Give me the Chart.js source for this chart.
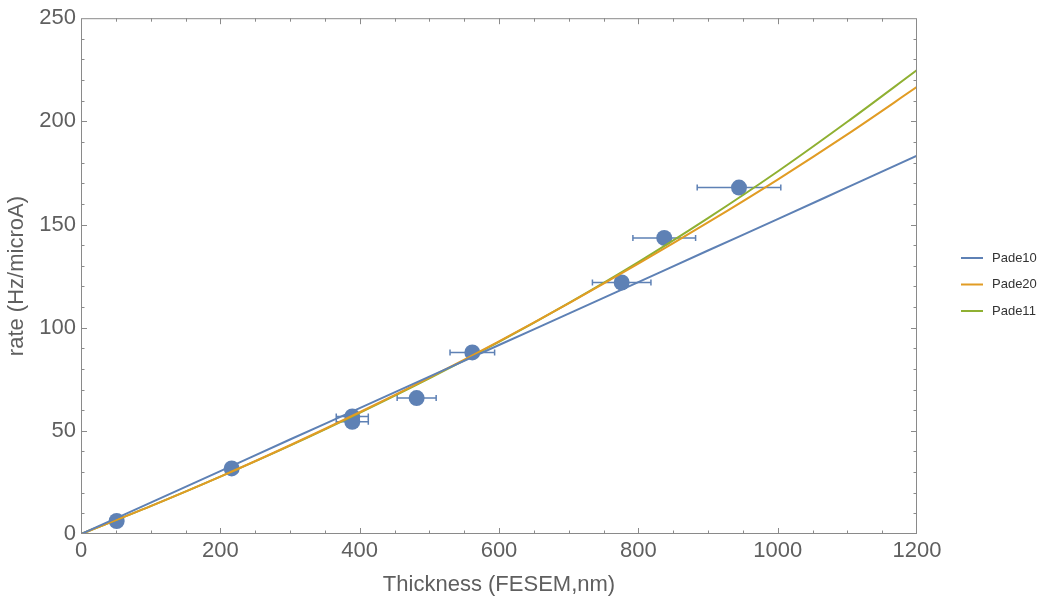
<!DOCTYPE html>
<html lang="en">
<head>
    <meta charset="UTF-8">
    <title>rate vs thickness</title>
    <style>
        body { margin: 0; background: #fff; }
        #wrap { width: 1044px; height: 602px; }
    </style>
</head>
<body>
    <div id="wrap"><canvas id="myChart" width="1044" height="602"></canvas></div>

    <script src="https://cdn.jsdelivr.net/npm/chart.js"></script>

    <script>
        // measured points
        const thickness = [51.2, 216.3, 389.4, 389.4, 481.8, 561.7, 776.1, 837.2, 944.5]
        const rate = [6.3, 31.8, 57.0, 54.4, 65.9, 88.0, 121.9, 143.5, 167.9]
        const thicknessErr = [0, 0, 23, 23, 28, 32, 42, 45, 60]

        // fitted curves, every 100 nm
        const curveX = [0, 100, 200, 300, 400, 500, 600, 700, 800, 900, 1000, 1100, 1200]
        const pade10 = [0, 15.2, 30.5, 45.8, 61.0, 76.3, 91.6, 106.8, 122.1, 137.4, 152.6, 168.0, 183.4]
        const pade20 = [0, 13.5, 27.8, 43.0, 59.0, 75.8, 93.4, 111.8, 131.0, 151.0, 171.8, 193.7, 216.7]
        const pade11 = [0, 13.5, 27.8, 42.8, 58.7, 75.4, 93.1, 111.9, 131.8, 153.1, 175.7, 199.8, 224.9]

        const xTicks = [0, 200, 400, 600, 800, 1000, 1200]
        const yTicks = [0, 50, 100, 150, 200, 250]

        const blue = '#5E81B5', orange = '#E19C24', green = '#8FB032'
        const textGray = '#5f5f5f'
        const font = { family: 'Liberation Sans, Arial, sans-serif', size: 22 }

        const toXY = (xs, ys) => xs.map((x, i) => ({ x: x, y: ys[i] }))

        const curve = (label, ys, color) => ({
            label: label,
            data: toXY(curveX, ys),
            showLine: true,
            borderColor: color,
            backgroundColor: color,
            borderWidth: 2,
            pointRadius: 0,
            cubicInterpolationMode: 'monotone',
            order: 0
        })

        // frame with inward ticks on all four sides + error bars + legend
        const framePlugin = {
            id: 'frame',
            beforeDatasetsDraw(chart) {
                const ctx = chart.ctx, xs = chart.scales.x, ys = chart.scales.y
                ctx.save()
                ctx.strokeStyle = blue
                ctx.lineWidth = 1.5
                thickness.forEach((t, i) => {
                    if (!thicknessErr[i]) return
                    const y = ys.getPixelForValue(rate[i])
                    const a = xs.getPixelForValue(t - thicknessErr[i])
                    const b = xs.getPixelForValue(t + thicknessErr[i])
                    ctx.beginPath()
                    ctx.moveTo(a, y); ctx.lineTo(b, y)
                    ctx.moveTo(a, y - 3); ctx.lineTo(a, y + 3)
                    ctx.moveTo(b, y - 3); ctx.lineTo(b, y + 3)
                    ctx.stroke()
                })
                ctx.restore()
            },
            afterDraw(chart) {
                const ctx = chart.ctx, a = chart.chartArea
                const xs = chart.scales.x, ys = chart.scales.y
                ctx.save()
                ctx.strokeStyle = '#8a8a8a'
                ctx.lineWidth = 1
                ctx.strokeRect(a.left + 0.5, a.top + 0.5, a.right - a.left - 1, a.bottom - a.top - 1)
                ctx.beginPath()
                for (let v = 50; v < 1200; v += 50) {
                    const px = Math.round(xs.getPixelForValue(v)) + 0.5
                    const len = v % 200 === 0 ? 6 : 3.5
                    ctx.moveTo(px, a.bottom); ctx.lineTo(px, a.bottom - len)
                    ctx.moveTo(px, a.top); ctx.lineTo(px, a.top + len)
                }
                for (let v = 10; v < 250; v += 10) {
                    const py = Math.round(ys.getPixelForValue(v)) + 0.5
                    const len = v % 50 === 0 ? 6 : 3.5
                    ctx.moveTo(a.left, py); ctx.lineTo(a.left + len, py)
                    ctx.moveTo(a.right, py); ctx.lineTo(a.right - len, py)
                }
                ctx.stroke()

                // legend
                const items = chart.data.datasets.filter(d => d.label)
                ctx.font = '13px Liberation Sans, Arial, sans-serif'
                ctx.textBaseline = 'middle'
                items.forEach((d, i) => {
                    const y = 258 + i * 26.5
                    ctx.fillStyle = d.borderColor
                    ctx.fillRect(961, y - 1, 22, 2)
                    ctx.fillStyle = '#333'
                    ctx.fillText(d.label, 992, y)
                })
                ctx.restore()
            }
        }

        const ctx = document.getElementById('myChart')
        const myChart = new Chart(ctx, {
            type: 'scatter',
            data: {
                datasets: [
                    curve('Pade10', pade10, blue),
                    curve('Pade20', pade20, orange),
                    curve('Pade11', pade11, green),
                    {
                        label: '',
                        data: toXY(thickness, rate),
                        pointRadius: 8,
                        pointBackgroundColor: blue,
                        pointBorderWidth: 0,
                        order: 1
                    }
                ]
            },
            options: {
                responsive: false,
                animation: false,
                layout: { padding: { top: 17, right: 127, left: 0, bottom: 0 } },
                plugins: {
                    legend: { display: false },
                    tooltip: { enabled: false }
                },
                scales: {
                    x: {
                        type: 'linear',
                        min: 0, max: 1200,
                        afterBuildTicks: s => { s.ticks = xTicks.map(v => ({ value: v })) },
                        afterFit: s => { s.height = 68 },
                        grid: { display: false, drawTicks: false },
                        border: { display: false },
                        ticks: { color: textGray, font: font, padding: 4, maxRotation: 0, callback: v => String(v) },
                        title: { display: true, text: 'Thickness (FESEM,nm)', color: textGray, font: font, padding: 4 }
                    },
                    y: {
                        type: 'linear',
                        min: 0, max: 250,
                        afterBuildTicks: s => { s.ticks = yTicks.map(v => ({ value: v })) },
                        afterFit: s => { s.width = 81 },
                        grid: { display: false, drawTicks: false },
                        border: { display: false },
                        ticks: { color: textGray, font: font, padding: 5, callback: v => String(v) },
                        title: { display: true, text: 'rate (Hz/microA)', color: textGray, font: font, padding: 4 }
                    }
                }
            },
            plugins: [framePlugin]
        })
    </script>
</body>
</html>
